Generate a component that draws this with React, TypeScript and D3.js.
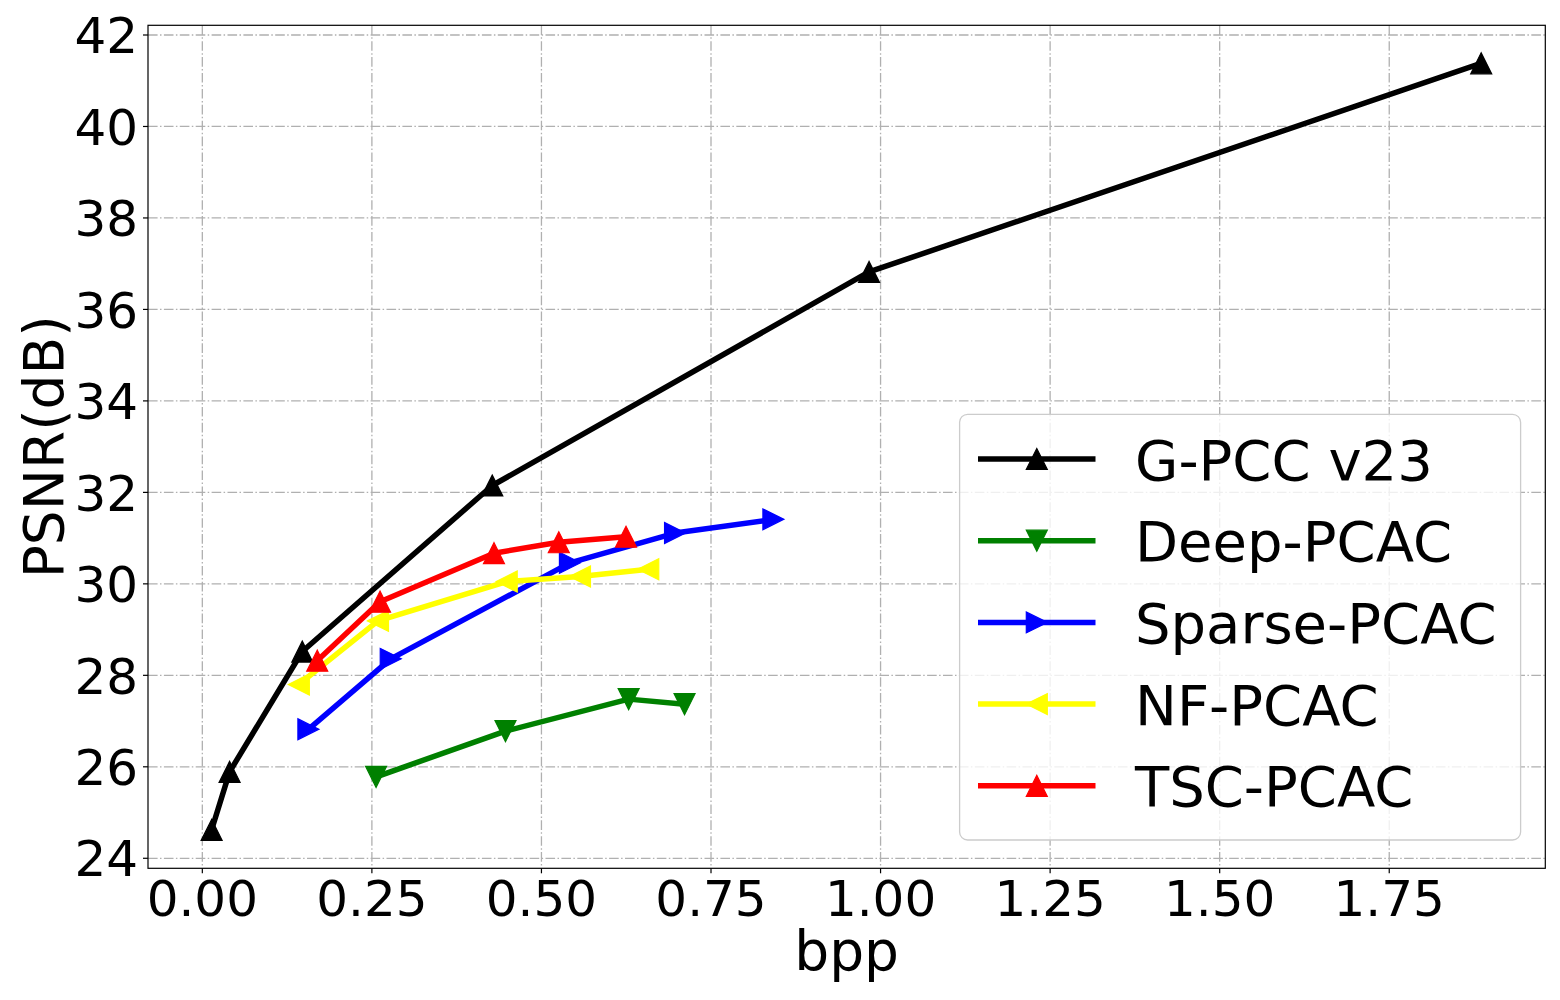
import React, { useEffect } from "react";
import * as d3 from "d3";

const seriesNames = ["G-PCC v23", "Deep-PCAC", "Sparse-PCAC", "NF-PCAC", "TSC-PCAC"];
const seriesColors = ["#000000", "#008000", "#0000ff", "#ffff00", "#ff0000"];
const seriesMarkers = ["up", "down", "right", "left", "up"];

const gpccX = [0.0137, 0.0402, 0.1474, 0.4275, 0.983, 1.8856];
const gpccY = [24.62, 25.89, 28.52, 32.15, 36.82, 41.38];
const deepX = [0.2562, 0.447, 0.6286, 0.711];
const deepY = [25.78, 26.78, 27.48, 27.37];
const sparseX = [0.1564, 0.2778, 0.542, 0.697, 0.842];
const sparseY = [26.82, 28.36, 30.46, 31.11, 31.41];
const nfX = [0.1423, 0.259, 0.4488, 0.5568, 0.6575];
const nfY = [27.8, 29.19, 30.05, 30.16, 30.32];
const tscX = [0.1694, 0.262, 0.43, 0.5256, 0.6247];
const tscY = [28.32, 29.61, 30.67, 30.91, 31.03];

const xTicks = [0, 0.25, 0.5, 0.75, 1.0, 1.25, 1.5, 1.75];
const yTicks = [24, 26, 28, 30, 32, 34, 36, 38, 40, 42];

const xLabel = "bpp";
const yLabel = "PSNR(dB)";

const FONT = "DejaVu Sans, sans-serif";

function trianglePath(kind: string, cx: number, cy: number, s: number): string {
  const h = s / 2;
  let pts: [number, number][] = [];
  if (kind === "up") pts = [[cx, cy - h], [cx - h, cy + h], [cx + h, cy + h]];
  else if (kind === "down") pts = [[cx, cy + h], [cx - h, cy - h], [cx + h, cy - h]];
  else if (kind === "right") pts = [[cx + h, cy], [cx - h, cy - h], [cx - h, cy + h]];
  else pts = [[cx - h, cy], [cx + h, cy - h], [cx + h, cy + h]];
  return "M" + pts.map((p) => p[0] + "," + p[1]).join("L") + "Z";
}

export default function App() {
  useEffect(() => {
    document.body.style.margin = "0";
  }, []);

  const W = 1560;
  const H = 1000;
  const left = 148;
  const right = 1545.3;
  const top = 25.3;
  const bottom = 868.3;

  const x = d3.scaleLinear().domain([-0.0801, 1.9801]).range([left, right]);
  const y = d3.scaleLinear().domain([23.781, 42.212]).range([bottom, top]);

  const data = [
    { xs: gpccX, ys: gpccY },
    { xs: deepX, ys: deepY },
    { xs: sparseX, ys: sparseY },
    { xs: nfX, ys: nfY },
    { xs: tscX, ys: tscY },
  ];

  const line = d3
    .line<[number, number]>()
    .x((d) => x(d[0]))
    .y((d) => y(d[1]));

  const fmtX = d3.format(".2f");
  const markerSize = 21;
  const lw = 5.5;

  const legX = 959.6;
  const legY = 414.3;
  const legW = 561;
  const legH = 425.7;
  const rowY0 = 459;
  const rowStep = 81.7;

  return (
    <svg width={W} height={H} style={{ display: "block" }} xmlns="http://www.w3.org/2000/svg">
      <rect x={0} y={0} width={W} height={H} fill="#ffffff" />
      <defs>
        <clipPath id="plotclip">
          <rect x={left} y={top} width={right - left} height={bottom - top} />
        </clipPath>
      </defs>
      {/* grid */}
      <g stroke="#b0b0b0" strokeWidth={1.3} strokeDasharray="9.6,2.4,1.5,2.4" fill="none">
        {xTicks.map((t) => (
          <line key={"gx" + t} x1={x(t)} x2={x(t)} y1={top} y2={bottom} />
        ))}
        {yTicks.map((t) => (
          <line key={"gy" + t} x1={left} x2={right} y1={y(t)} y2={y(t)} />
        ))}
      </g>
      {/* series */}
      <g clipPath="url(#plotclip)">
        {data.map((s, i) => {
          const pts: [number, number][] = s.xs.map((v, j) => [v, s.ys[j]]);
          return (
            <g key={"s" + i}>
              <path
                d={line(pts) || ""}
                fill="none"
                stroke={seriesColors[i]}
                strokeWidth={lw}
                strokeLinejoin="round"
                strokeLinecap="square"
              />
              {pts.map((p, j) => (
                <path
                  key={"m" + j}
                  d={trianglePath(seriesMarkers[i], x(p[0]), y(p[1]), markerSize)}
                  fill={seriesColors[i]}
                  stroke={seriesColors[i]}
                  strokeWidth={1.2}
                  strokeLinejoin="miter"
                />
              ))}
            </g>
          );
        })}
      </g>
      {/* spines */}
      <rect x={left} y={top} width={right - left} height={bottom - top} fill="none" stroke="#000" strokeWidth={1.2} />
      {/* x ticks */}
      <g fontFamily={FONT} fontSize={50} fill="#000">
        {xTicks.map((t) => (
          <g key={"xt" + t}>
            <line x1={x(t)} x2={x(t)} y1={bottom} y2={bottom + 5} stroke="#000" strokeWidth={1.2} />
            <text x={x(t)} y={916} textAnchor="middle">
              {fmtX(t)}
            </text>
          </g>
        ))}
        {yTicks.map((t) => (
          <g key={"yt" + t}>
            <line x1={left - 5} x2={left} y1={y(t)} y2={y(t)} stroke="#000" strokeWidth={1.2} />
            <text x={138} y={y(t) + 18.2} textAnchor="end">
              {String(t)}
            </text>
          </g>
        ))}
      </g>
      {/* axis labels */}
      <text x={(left + right) / 2} y={970} textAnchor="middle" fontFamily={FONT} fontSize={55} fill="#000">
        {xLabel}
      </text>
      <text
        transform={`translate(63.3,${(top + bottom) / 2}) rotate(-90)`}
        textAnchor="middle"
        fontFamily={FONT}
        fontSize={55}
        fill="#000"
      >
        {yLabel}
      </text>
      {/* legend */}
      <g>
        <rect
          x={legX}
          y={legY}
          width={legW}
          height={legH}
          rx={8}
          ry={8}
          fill="#ffffff"
          fillOpacity={0.8}
          stroke="#cccccc"
          strokeWidth={1.3}
        />
        {seriesNames.map((name, i) => {
          const cy = rowY0 + i * rowStep;
          return (
            <g key={"lg" + i}>
              <line x1={978} x2={1095.5} y1={cy} y2={cy} stroke={seriesColors[i]} strokeWidth={lw} />
              <path
                d={trianglePath(seriesMarkers[i], 1036.8, cy, 21)}
                fill={seriesColors[i]}
                stroke={seriesColors[i]}
                strokeWidth={1.2}
              />
              <text x={1135} y={cy + 20.5} fontFamily={FONT} fontSize={56} fill="#000">
                {name}
              </text>
            </g>
          );
        })}
      </g>
    </svg>
  );
}
